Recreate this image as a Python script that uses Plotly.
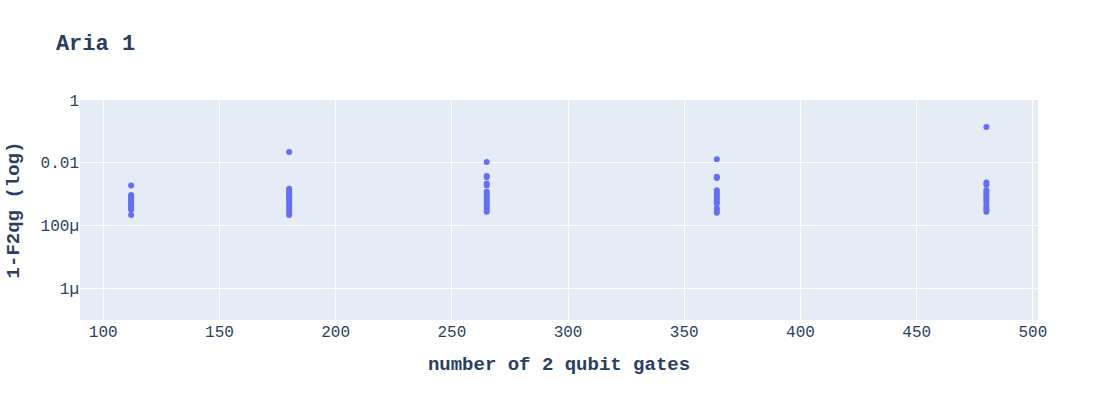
import plotly.graph_objects as go

# number of 2-qubit gates per circuit
gates_112 = 112
gates_180 = 180
gates_265 = 265
gates_364 = 364
gates_480 = 480

# 1 - F2qg values
err_112 = [1.9e-3, 9.5e-4, 8.5e-4, 7.5e-4, 6.6e-4, 6.0e-4, 5.4e-4, 5.0e-4, 4.5e-4, 4.0e-4, 3.6e-4, 3.2e-4, 2.2e-4]
err_180 = [2.2e-2, 1.5e-3, 1.3e-3, 1.15e-3, 1.0e-3, 9.0e-4, 8.0e-4, 7.0e-4, 6.2e-4, 5.4e-4, 4.6e-4, 3.8e-4, 3.2e-4, 2.7e-4, 2.2e-4]
err_265 = [1.06e-2, 3.8e-3, 3.5e-3, 2.2e-3, 1.9e-3, 1.2e-3, 1.05e-3, 9.0e-4, 7.8e-4, 6.5e-4, 5.5e-4, 4.6e-4, 4.0e-4, 3.3e-4, 2.8e-4]
err_364 = [1.3e-2, 3.6e-3, 3.3e-3, 1.35e-3, 1.15e-3, 9.5e-4, 8.0e-4, 6.8e-4, 5.6e-4, 5.1e-4, 3.6e-4, 3.0e-4, 2.6e-4]
err_480 = [0.138, 2.35e-3, 2.0e-3, 1.35e-3, 1.15e-3, 9.5e-4, 8.0e-4, 6.8e-4, 5.8e-4, 4.6e-4, 3.8e-4, 3.2e-4, 2.8e-4]

groups = [
    (gates_112, err_112),
    (gates_180, err_180),
    (gates_265, err_265),
    (gates_364, err_364),
    (gates_480, err_480),
]

xs, ys = [], []
for g, errs in groups:
    xs.extend([g] * len(errs))
    ys.extend(errs)

fig = go.Figure(
    go.Scatter(x=xs, y=ys, mode="markers", marker=dict(color="#636efa", size=6))
)

mono = "Liberation Mono, Courier New, monospace"
fig.update_layout(
    template="plotly",
    width=1118,
    height=400,
    margin=dict(l=80, r=80, t=100, b=80),
    font=dict(family=mono, size=16, color="#2a3f5f"),
    title=dict(text="<b>Aria 1</b>", font=dict(family=mono, size=22), x=0.05),
    xaxis=dict(
        title=dict(text="<b>number of 2 qubit gates</b>", font=dict(size=19)),
        range=[90, 502.2],
    ),
    yaxis=dict(
        title=dict(text="<b>1-F2qg (log)</b>", font=dict(size=19)),
        type="log",
        range=[-7, 0],
        tickvals=[1, 0.01, 1e-4, 1e-6],
        ticktext=["1", "0.01", "100µ", "1µ"],
    ),
    showlegend=False,
)

fig.write_html(
    "out.html",
    config={"displayModeBar": False},
    post_script="document.body.style.margin='0';document.body.style.overflow='hidden';",
)
